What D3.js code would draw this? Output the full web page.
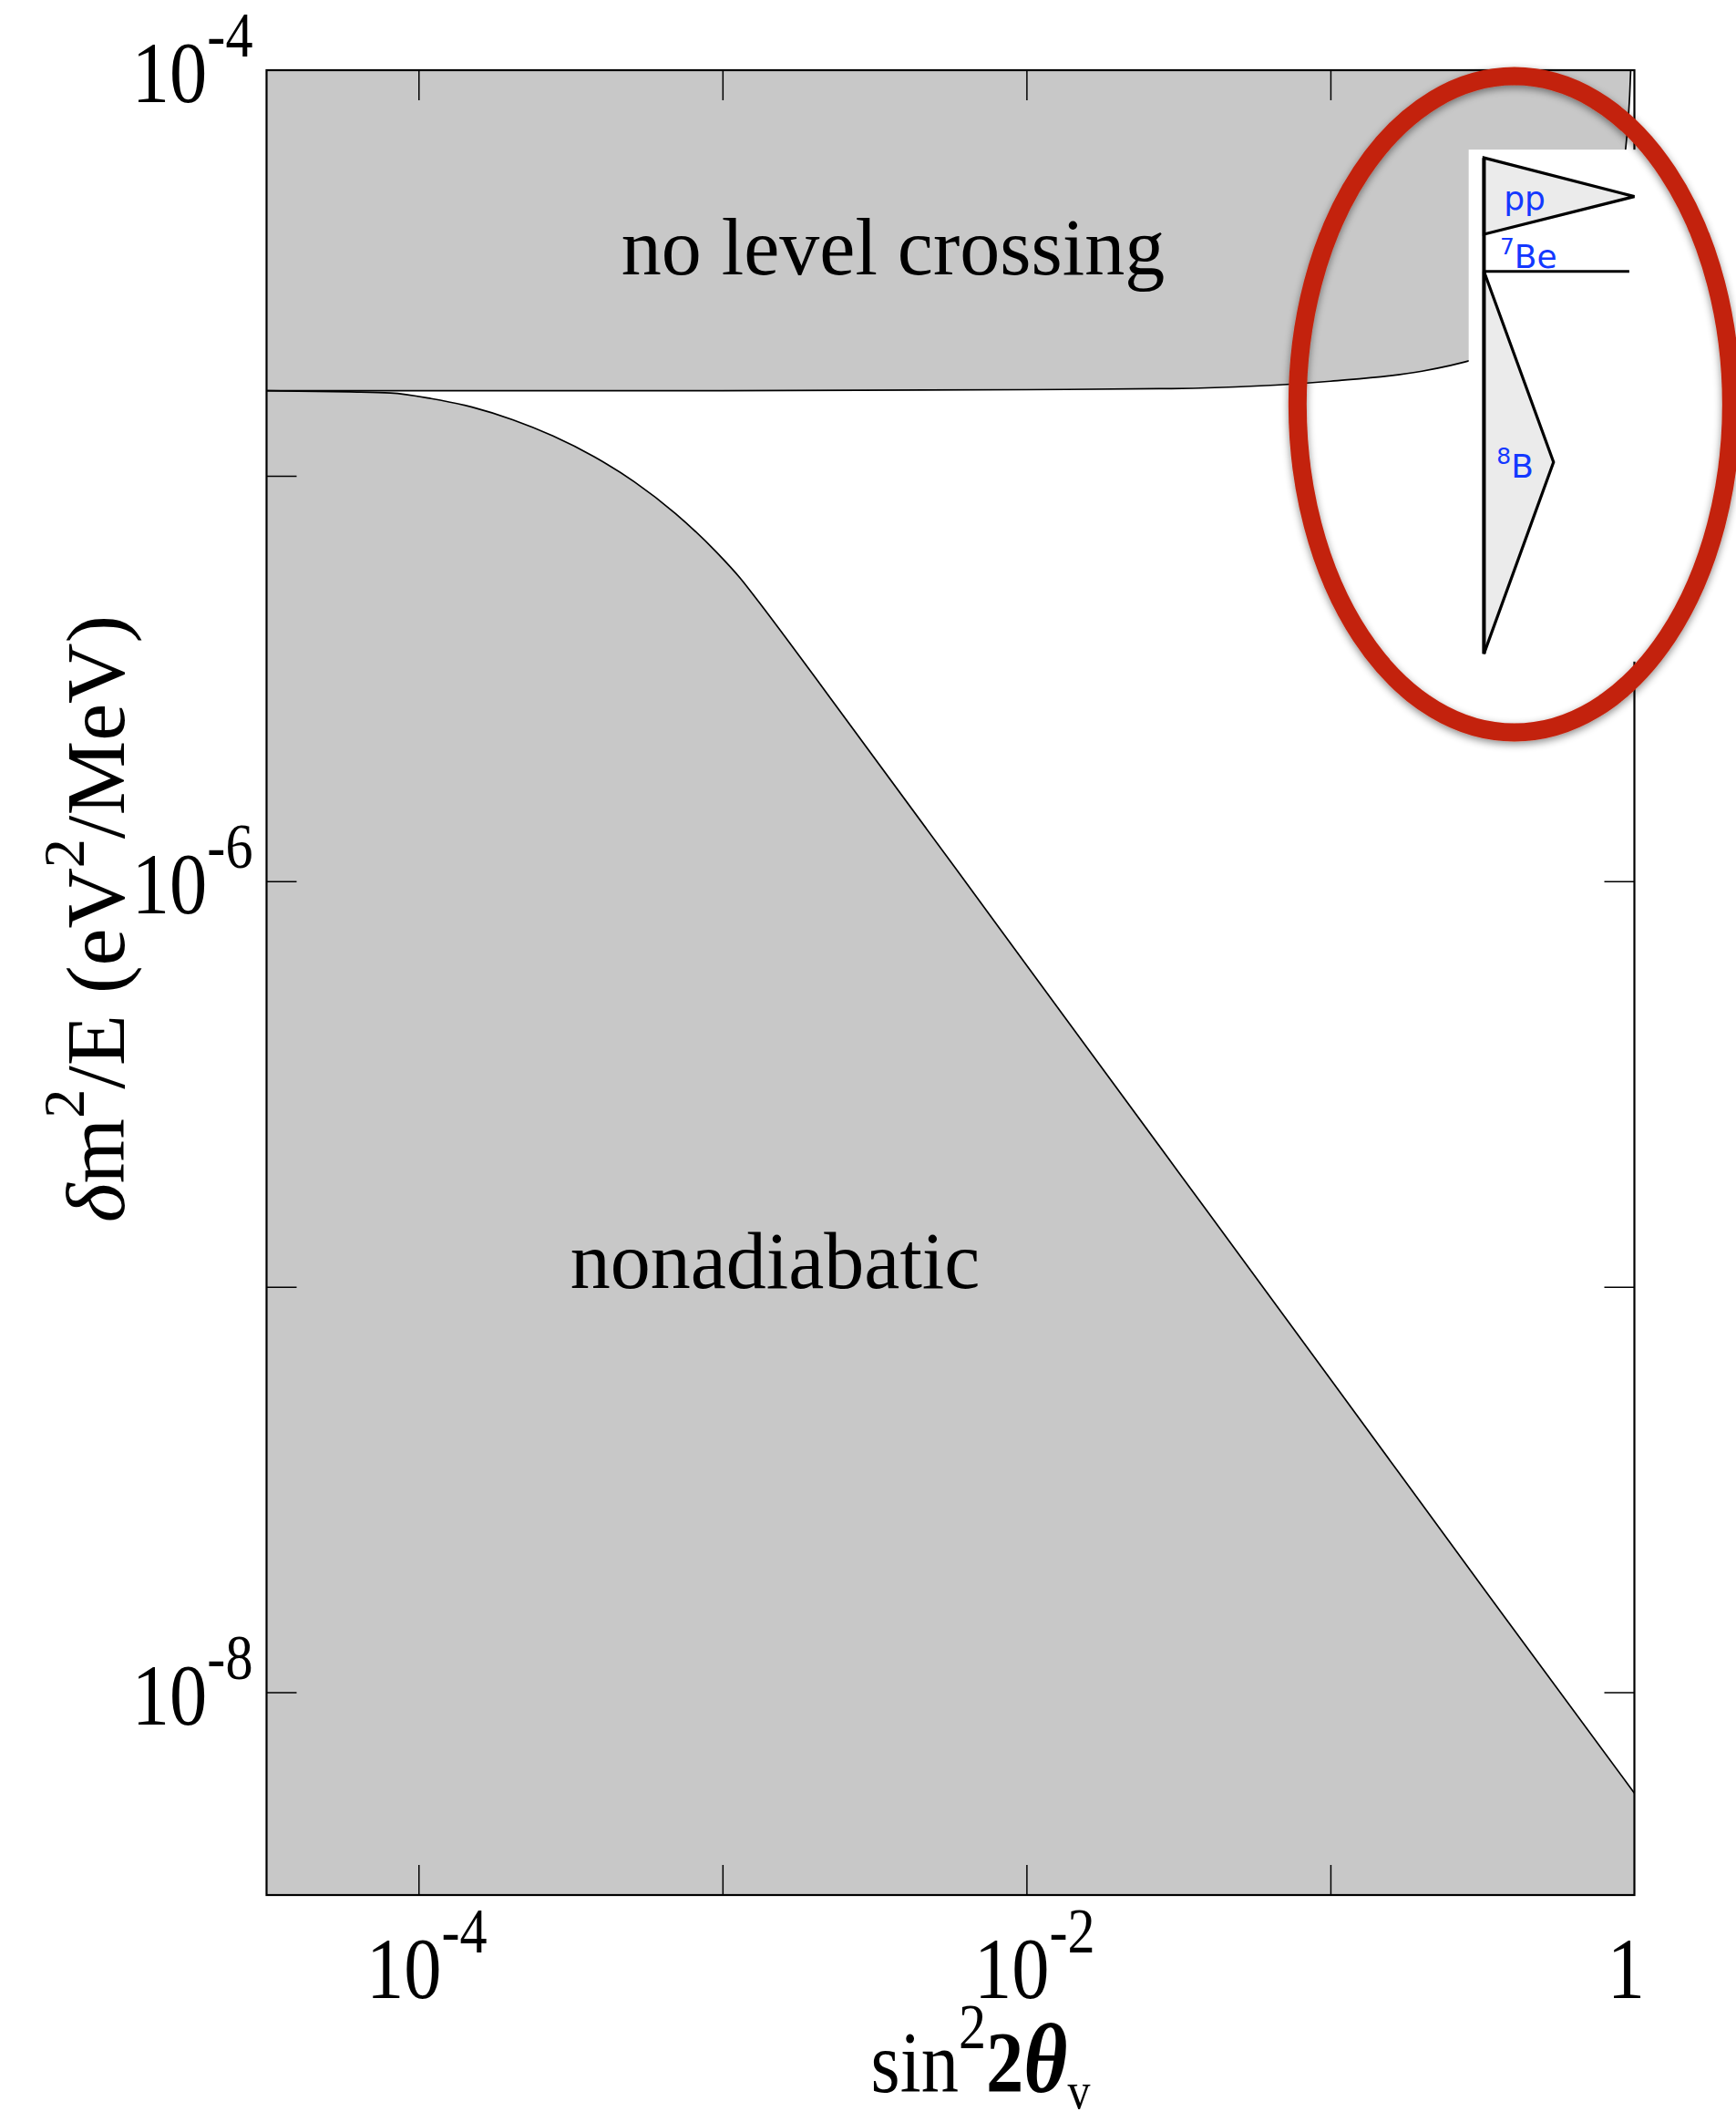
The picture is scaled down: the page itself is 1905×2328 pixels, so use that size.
<!DOCTYPE html>
<html>
<head>
<meta charset="utf-8">
<script src="https://cdn.jsdelivr.net/npm/d3@7"></script>
<style>
  body { margin: 0; background: #fff; }
  svg { display: block; }
</style>
</head>
<body>
<script>
// ---- axis domains and ticks -------------------------------------------
const xDomain = [3.1623e-5, 1];            // sin^2 2θ
const yDomain = [3.1623e-9, 1e-4];         // δm^2/E (eV^2/MeV)
const xTicks = [1e-4, 1e-3, 1e-2, 1e-1];
const yTicks = [1e-8, 1e-7, 1e-6, 1e-5];
const xLabelValues = [1e-4, 1e-2, 1];
const xLabelBase = ["10", "10", "1"];
const xLabelExp = ["-4", "-2", ""];
const yLabelValues = [1e-4, 1e-6, 1e-8];
const yLabelBase = ["10", "10", "10"];
const yLabelExp = ["-4", "-6", "-8"];

// ---- level-crossing boundary (above it: no level crossing) -------------
const crossingS = [3.1623e-5, 1e-3, 1e-2, 3e-2, 0.1, 0.2, 0.3, 0.4, 0.5, 0.6, 0.7, 0.8, 0.9, 0.93, 0.95, 0.965, 0.98];
const crossingY = [1.62e-5, 1.62e-5, 1.63e-5, 1.64e-5, 1.71e-5, 1.81e-5, 1.94e-5, 2.09e-5, 2.29e-5, 2.56e-5, 2.96e-5, 3.62e-5, 5.12e-5, 6.13e-5, 7.24e-5, 8.66e-5, 1.15e-4];

// ---- adiabaticity boundary (below it: nonadiabatic) --------------------
const adiabaticS = [3.1623e-5, 5.94e-5, 8.09e-5, 1.10e-4, 1.50e-4, 2.04e-4, 2.77e-4, 3.78e-4, 5.13e-4, 7.00e-4, 9.53e-4, 1.15e-3, 1.29e-3, 2.05e-3, 1e-2, 3.16e-2, 1e-1, 3.16e-1, 1];
const adiabaticY = [1.62e-5, 1.61e-5, 1.60e-5, 1.55e-5, 1.476e-5, 1.374e-5, 1.253e-5, 1.114e-5, 9.66e-6, 8.07e-6, 6.49e-6, 5.56e-6, 4.98e-6, 3.13e-6, 6.21e-7, 1.92e-7, 5.92e-8, 1.82e-8, 5.64e-9];

// ---- region labels ------------------------------------------------------
const regionLabelText = ["no level crossing", "nonadiabatic"];
const regionLabelS = [3.64e-3, 1.49e-3];
const regionLabelY = [3.14e-5, 9.93e-8];

// ---- solar neutrino spectra sketch (pp, 7Be, 8B) -----------------------
const insetBoxS = [0.285, 1.05];
const insetBoxY = [3.48e-6, 6.37e-5];
const insetAxisS = [0.32, 0.32];
const insetAxisY = [6.08e-5, 3.64e-6];
const ppS = [0.32, 1.0, 0.32];
const ppY = [6.08e-5, 4.88e-5, 3.94e-5];
const be7S = [0.32, 0.962];
const be7Y = [3.19e-5, 3.19e-5];
const b8S = [0.32, 0.542, 0.32];
const b8Y = [3.19e-5, 1.08e-5, 3.64e-6];
const insetLabelText = ["pp", "Be", "B"];
const insetLabelSup = ["", "7", "8"];
const insetLabelS = [0.372, 0.361, 0.352];
const insetLabelY = [4.52e-5, 3.25e-5, 9.89e-6];

// ---- highlight ellipse centre ------------------------------------------
const highlightS = [0.403];
const highlightY = [1.50e-5];

// ========================================================================
const W = 1905, H = 2328;
const plot = { left: 292.5, right: 1793.5, top: 77, bottom: 2079 };
const serif = "'Liberation Serif', 'Times New Roman', Times, serif";
const sans = "'DejaVu Sans', Verdana, sans-serif";
const grey = "#c8c8c8";

const x = d3.scaleLog().domain(xDomain).range([plot.left, plot.right]);
const y = d3.scaleLog().domain(yDomain).range([plot.bottom, plot.top]);

const svg = d3.select("body").append("svg")
  .attr("width", W).attr("height", H)
  .attr("viewBox", `0 0 ${W} ${H}`);

const defs = svg.append("defs");
defs.append("clipPath").attr("id", "plot-clip")
  .append("rect")
  .attr("x", plot.left).attr("y", plot.top)
  .attr("width", plot.right - plot.left).attr("height", plot.bottom - plot.top);
const shadow = defs.append("filter").attr("id", "soft-shadow")
  .attr("x", "-20%").attr("y", "-20%").attr("width", "140%").attr("height", "140%");
shadow.append("feDropShadow")
  .attr("dx", 0).attr("dy", 3).attr("stdDeviation", 4)
  .attr("flood-color", "#000").attr("flood-opacity", 0.45);

const crossing = crossingS.map((s, i) => ({ s, v: crossingY[i] }));
const adiabatic = adiabaticS.map((s, i) => ({ s, v: adiabaticY[i] }));

const regions = svg.append("g").attr("clip-path", "url(#plot-clip)");

// no-level-crossing region: from the boundary up to the top of the frame
regions.append("path")
  .datum(crossing)
  .attr("fill", grey)
  .attr("d", d3.area()
    .x(d => x(d.s))
    .y0(y(yDomain[1]))
    .y1(d => y(d.v))
    .curve(d3.curveMonotoneX));

// nonadiabatic region: from the boundary down to the bottom of the frame
regions.append("path")
  .datum(adiabatic)
  .attr("fill", grey)
  .attr("d", d3.area()
    .x(d => x(d.s))
    .y0(y(yDomain[0]))
    .y1(d => y(d.v))
    .curve(d3.curveMonotoneX));

const line = d3.line().x(d => x(d.s)).y(d => y(d.v)).curve(d3.curveMonotoneX);
regions.append("path").datum(crossing)
  .attr("fill", "none").attr("stroke", "#000").attr("stroke-width", 1.7)
  .attr("d", line);
regions.append("path").datum(adiabatic)
  .attr("fill", "none").attr("stroke", "#000").attr("stroke-width", 1.7)
  .attr("d", line);

// ---- inward ticks on all four sides ------------------------------------
const tickLen = 33;
function styleAxis(g) {
  g.select(".domain").remove();
  g.selectAll(".tick line").attr("stroke", "#000").attr("stroke-width", 1.5);
  g.selectAll(".tick text").remove();
}
svg.append("g").attr("transform", `translate(0,${plot.bottom})`)
  .call(d3.axisBottom(x).tickValues(xTicks).tickSize(-tickLen)).call(styleAxis);
svg.append("g").attr("transform", `translate(0,${plot.top})`)
  .call(d3.axisTop(x).tickValues(xTicks).tickSize(-tickLen)).call(styleAxis);
svg.append("g").attr("transform", `translate(${plot.left},0)`)
  .call(d3.axisLeft(y).tickValues(yTicks).tickSize(-tickLen)).call(styleAxis);
svg.append("g").attr("transform", `translate(${plot.right},0)`)
  .call(d3.axisRight(y).tickValues(yTicks).tickSize(-tickLen)).call(styleAxis);

// frame
svg.append("rect")
  .attr("x", plot.left).attr("y", plot.top)
  .attr("width", plot.right - plot.left).attr("height", plot.bottom - plot.top)
  .attr("fill", "none").attr("stroke", "#000").attr("stroke-width", 2.2);

// ---- tick labels (10 with superscript exponent) -------------------------
const condense = 0.86;
const labelSize = 96, supSize = 70, supDy = -50;
function powerText(g, base, exp) {
  const t = g.append("text");
  t.append("tspan").text(base);
  if (exp) t.append("tspan").attr("font-size", supSize).attr("dy", supDy).text(exp);
  return t;
}
xLabelValues.forEach((v, i) => {
  const off = xLabelExp[i] ? 9 : -9;
  const g = svg.append("g")
    .attr("transform", `translate(${x(v) + off},${plot.bottom + 113}) scale(${condense},1)`)
    .attr("font-family", serif).attr("font-size", labelSize).attr("fill", "#000");
  powerText(g, xLabelBase[i], xLabelExp[i]).attr("text-anchor", "middle");
});
yLabelValues.forEach((v, i) => {
  const g = svg.append("g")
    .attr("transform", `translate(${plot.left - 15},${y(v) + 35}) scale(${condense},1)`)
    .attr("font-family", serif).attr("font-size", labelSize).attr("fill", "#000");
  powerText(g, yLabelBase[i], yLabelExp[i]).attr("text-anchor", "end");
});

// ---- axis titles --------------------------------------------------------
{
  const g = svg.append("g")
    .attr("transform", `translate(1076,2295) scale(${condense},1)`)
    .attr("font-family", serif).attr("font-size", 96).attr("fill", "#000");
  const t = g.append("text").attr("text-anchor", "middle");
  t.append("tspan").text("sin");
  t.append("tspan").attr("font-size", 70).attr("dy", -48).text("2");
  t.append("tspan").attr("dy", 48).attr("font-weight", "bold").text("2");
  t.append("tspan").attr("font-weight", "bold").attr("font-style", "italic")
    .attr("font-size", 108).text("θ");
  t.append("tspan").attr("font-size", 58).attr("dy", 18).text("v");
}
{
  const g = svg.append("g")
    .attr("transform", `translate(136,1008) rotate(-90)`)
    .attr("font-family", serif).attr("font-size", 92).attr("fill", "#000");
  const t = g.append("text").attr("text-anchor", "middle");
  t.append("tspan").attr("font-style", "italic").text("δ");
  t.append("tspan").text("m");
  t.append("tspan").attr("font-size", 64).attr("dy", -44).text("2");
  t.append("tspan").attr("dy", 44).text("/E (eV");
  t.append("tspan").attr("font-size", 64).attr("dy", -44).text("2");
  t.append("tspan").attr("dy", 44).text("/MeV)");
}

// ---- region labels ------------------------------------------------------
regionLabelText.forEach((txt, i) => {
  svg.append("text")
    .attr("x", x(regionLabelS[i])).attr("y", y(regionLabelY[i]))
    .attr("text-anchor", "middle")
    .attr("font-family", serif).attr("font-size", 88).attr("fill", "#000")
    .text(txt);
});

// ---- neutrino spectra sketch -------------------------------------------
const inset = svg.append("g");
inset.append("rect")
  .attr("x", x(insetBoxS[0])).attr("y", y(insetBoxY[1]))
  .attr("width", x(insetBoxS[1]) - x(insetBoxS[0]))
  .attr("height", y(insetBoxY[0]) - y(insetBoxY[1]))
  .attr("fill", "#fff");
const poly = (S, V) => S.map((s, i) => [x(s), y(V[i])]);
inset.append("path")
  .attr("d", d3.line()(poly(ppS, ppY)) + "Z")
  .attr("fill", "#ebebeb").attr("stroke", "#000").attr("stroke-width", 3.2);
inset.append("path")
  .attr("d", d3.line()(poly(b8S, b8Y)) + "Z")
  .attr("fill", "#ebebeb").attr("stroke", "#000").attr("stroke-width", 3.2);
inset.append("path")
  .attr("d", d3.line()(poly(be7S, be7Y)))
  .attr("fill", "none").attr("stroke", "#000").attr("stroke-width", 3.2);
inset.append("path")
  .attr("d", d3.line()(poly(insetAxisS, insetAxisY)))
  .attr("fill", "none").attr("stroke", "#000").attr("stroke-width", 4);
insetLabelText.forEach((txt, i) => {
  const t = inset.append("text")
    .attr("x", x(insetLabelS[i])).attr("y", y(insetLabelY[i]))
    .attr("font-family", sans).attr("font-size", 36).attr("fill", "#1438ff");
  if (insetLabelSup[i]) {
    t.append("tspan").attr("font-size", 25).attr("dy", -15).text(insetLabelSup[i]);
    t.append("tspan").attr("dy", 15).text(txt);
  } else {
    t.append("tspan").text(txt);
  }
});

// ---- highlight ring -----------------------------------------------------
svg.append("ellipse")
  .attr("cx", x(highlightS[0])).attr("cy", y(highlightY[0]))
  .attr("rx", 238).attr("ry", 360)
  .attr("fill", "none").attr("stroke", "#c3240c").attr("stroke-width", 20)
  .attr("filter", "url(#soft-shadow)");
</script>
</body>
</html>
